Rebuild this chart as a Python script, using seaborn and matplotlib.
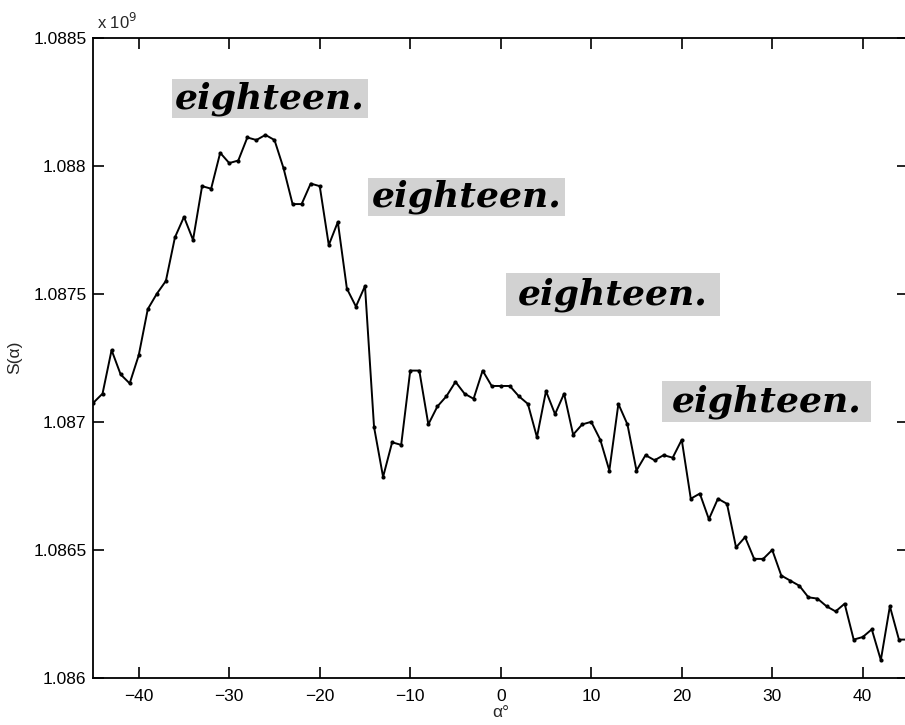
import matplotlib
matplotlib.use("Agg")
import matplotlib.pyplot as plt
import numpy as np
import pandas as pd
import seaborn as sns
from matplotlib.ticker import FuncFormatter

# angle alpha in degrees, one sample per degree
alpha_deg = list(range(-45, 46))

# S(alpha) in units of 1e9
s_alpha_e9 = [
    1.087075, 1.08711, 1.08728, 1.087185, 1.08715, 1.08726, 1.08744, 1.08750,
    1.08755, 1.08772, 1.08780, 1.08771, 1.08792, 1.08791, 1.08805,  # -45 .. -31
    1.08801, 1.08802, 1.08811, 1.08810, 1.08812, 1.08810, 1.08799, 1.08785,
    1.08785, 1.08793, 1.08792, 1.08769, 1.08778, 1.08752, 1.08745,  # -30 .. -16
    1.08753, 1.08698, 1.086785, 1.08692, 1.08691, 1.08720, 1.08720, 1.08699,
    1.08706, 1.08710, 1.087156, 1.08711, 1.08709, 1.08720, 1.08714,  # -15 .. -1
    1.08714, 1.08714, 1.08710, 1.08707, 1.08694, 1.08712, 1.08703, 1.08711,
    1.08695, 1.08699, 1.08700, 1.08693, 1.08681, 1.08707, 1.08699,  # 0 .. 14
    1.08681, 1.08687, 1.08685, 1.08687, 1.08686, 1.08693, 1.08670, 1.08672,
    1.08662, 1.08670, 1.08668, 1.08651, 1.08655, 1.086465, 1.086465,  # 15 .. 29
    1.08650, 1.08640, 1.08638, 1.08636, 1.086315, 1.08631, 1.08628, 1.08626,
    1.08629, 1.08615, 1.08616, 1.08619, 1.08607, 1.08628, 1.08615,  # 30 .. 44
    1.08615,  # 45
]

x_ticks = [-40, -30, -20, -10, 0, 10, 20, 30, 40]
y_ticks_e9 = [1.086, 1.0865, 1.087, 1.0875, 1.088, 1.0885]

# the four "eighteen." word images pasted on the plot
word_labels = ["eighteen.", "eighteen.", "eighteen.", "eighteen."]
word_boxes = [  # x0, y0, x1, y1 in axes fraction
    (0.0964, 0.874, 0.337, 0.935),
    (0.3366, 0.722, 0.579, 0.781),
    (0.507, 0.566, 0.769, 0.632),
    (0.698, 0.400, 0.955, 0.464),
]

df = pd.DataFrame({"alpha": alpha_deg, "S": np.array(s_alpha_e9) * 1e9})

sns.set_style("ticks")
plt.rcParams["font.family"] = ["Liberation Sans", "DejaVu Sans"]

fig = plt.figure(figsize=(9.05, 7.25), dpi=100)
ax = fig.add_axes([0.1033, 0.0648, 0.9, 0.8834])

sns.lineplot(data=df, x="alpha", y="S", ax=ax, color="black", linewidth=1.4,
             marker="o", markersize=3, markeredgewidth=0)

ax.set_xlim(-45, 45)
ax.set_ylim(y_ticks_e9[0] * 1e9, y_ticks_e9[-1] * 1e9)
ax.set_xticks(x_ticks)
ax.set_yticks([v * 1e9 for v in y_ticks_e9])
ax.yaxis.set_major_formatter(FuncFormatter(lambda v, p: f"{v / 1e9:g}"))

for side in ["top", "right", "left", "bottom"]:
    ax.spines[side].set_visible(True)
    ax.spines[side].set_linewidth(1.3)
    ax.spines[side].set_color("black")
ax.tick_params(direction="in", top=True, right=True, length=8, width=1.2,
               labelsize=12.5, colors="black")
ax.tick_params(axis="x", pad=8)
ax.tick_params(axis="y", pad=5)

ax.set_xlabel("α°", fontsize=12.5, labelpad=0.5)
ax.set_ylabel("S(α)", fontsize=12.5, labelpad=8)
ax.text(0.004, 1.008, r"x 10$^{9}$", transform=ax.transAxes, fontsize=12,
        ha="left", va="bottom")

for lab, (x0, y0, x1, y1) in zip(word_labels, word_boxes):
    ax.add_patch(plt.Rectangle((x0, y0), x1 - x0, y1 - y0, transform=ax.transAxes,
                               facecolor="#d2d2d2", edgecolor="none", zorder=3))
    ax.text((x0 + x1) / 2, (y0 + y1) / 2, lab, transform=ax.transAxes,
            ha="center", va="center", fontsize=26, style="italic",
            fontweight="bold", family="DejaVu Serif", color="black", zorder=4)

fig.savefig("out.png", dpi=100)
